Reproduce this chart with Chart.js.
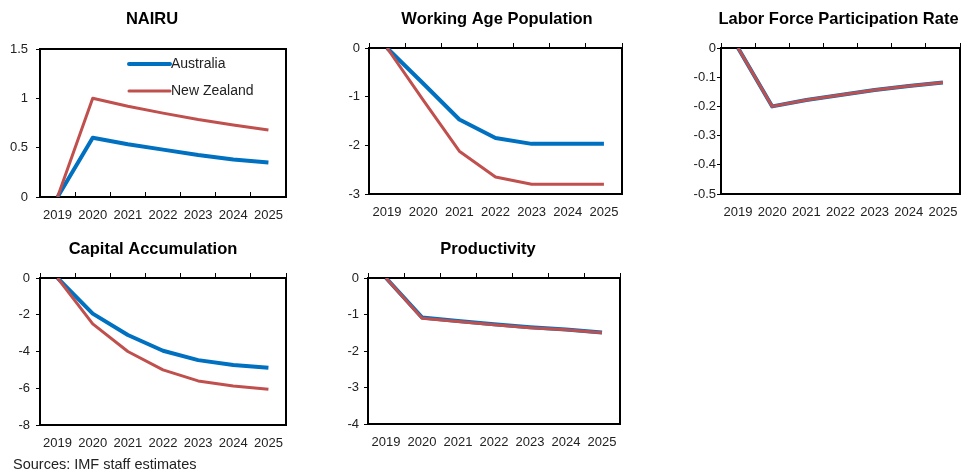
<!DOCTYPE html>
<html>
<head>
<meta charset="utf-8">
<script src="https://cdn.jsdelivr.net/npm/chart.js@4.4.0/dist/chart.umd.min.js"></script>
<style>
  html, body { margin: 0; padding: 0; background: #fff; width: 962px; height: 474px; overflow: hidden; }
  .panel { position: absolute; }
  .panel canvas { display: block; }
  #sources { position: absolute; left: 13px; top: 456px; font: 14.5px "Liberation Sans", Arial, sans-serif; color: #222; line-height: 16px; }
</style>
</head>
<body>
<div class="panel" style="left:0px;top:0px"><canvas id="nairu" width="304" height="230"></canvas></div>
<div class="panel" style="left:330px;top:0px"><canvas id="wap" width="334" height="230"></canvas></div>
<div class="panel" style="left:690px;top:0px"><canvas id="lfpr" width="297" height="230"></canvas></div>
<div class="panel" style="left:0px;top:230px"><canvas id="cap" width="306" height="244"></canvas></div>
<div class="panel" style="left:330px;top:230px"><canvas id="prod" width="316" height="244"></canvas></div>
<div id="sources">Sources: IMF staff estimates</div>
<script>
// Data
const years = ['2019', '2020', '2021', '2022', '2023', '2024', '2025'];
const seriesNames = ['Australia', 'New Zealand'];

const nairuAus = [0, 0.6, 0.535, 0.48, 0.425, 0.38, 0.35];
const nairuNzl = [0, 1.0, 0.92, 0.85, 0.785, 0.73, 0.68];

const wapAus = [0, -0.73, -1.47, -1.85, -1.97, -1.97, -1.97];
const wapNzl = [0, -1.07, -2.12, -2.65, -2.8, -2.8, -2.8];

const lfprAus = [0, -0.2, -0.178, -0.161, -0.144, -0.13, -0.118];
const lfprNzl = [0, -0.2, -0.178, -0.161, -0.144, -0.13, -0.118];

const capAus = [0, -1.94, -3.1, -3.96, -4.47, -4.74, -4.89];
const capNzl = [0, -2.5, -4.0, -5.0, -5.6, -5.88, -6.06];

const prodAus = [0, -1.08, -1.18, -1.27, -1.35, -1.41, -1.49];
const prodNzl = [0, -1.1, -1.19, -1.28, -1.36, -1.42, -1.5];

// y-axis ranges: [min, max, step]
const nairuRange = [0, 1.5, 0.5];
const wapRange = [-3, 0, 1];
const lfprRange = [-0.5, 0, 0.1];
const capRange = [-8, 0, 2];
const prodRange = [-4, 0, 1];

const ausColor = '#0070C0';
const nzlColor = '#C0504D';

Chart.defaults.font.family = '"Liberation Sans", Arial, sans-serif';
Chart.defaults.font.size = 13;
Chart.defaults.color = '#222';

// black frame around the plot area
const framePlugin = {
    id: 'frame',
    beforeDatasetsDraw(chart) {
        const a = chart.chartArea;
        const ctx = chart.ctx;
        ctx.save();
        ctx.strokeStyle = '#000';
        ctx.lineWidth = 2;
        ctx.strokeRect(a.left, a.top, a.right - a.left, a.bottom - a.top);
        ctx.restore();
    }
};

// legend drawn inside the plot area (NAIRU panel only)
const insideLegend = {
    id: 'insideLegend',
    afterDraw(chart) {
        const a = chart.chartArea;
        const ctx = chart.ctx;
        ctx.save();
        ctx.font = '14px "Liberation Sans", Arial, sans-serif';
        ctx.textBaseline = 'middle';
        ctx.fillStyle = '#222';
        seriesNames.forEach((name, i) => {
            const ds = chart.data.datasets.find(d => d.label === name);
            const y = a.top + 15 + i * 27;
            const x0 = a.left + 89;
            ctx.strokeStyle = ds.borderColor;
            ctx.lineWidth = ds.borderWidth;
            ctx.lineCap = 'round';
            ctx.beginPath();
            ctx.moveTo(x0, y);
            ctx.lineTo(x0 + 41, y);
            ctx.stroke();
            ctx.fillText(name, x0 + 42, y);
        });
        ctx.restore();
    }
};

// panel geometry: canvas box and plot area in page pixels
const panels = [
    { id: 'nairu', title: 'NAIRU', aus: nairuAus, nzl: nairuNzl, range: nairuRange, zeroBottom: true, legend: true,
      box: [0, 0, 304, 230], area: [40, 49, 286, 197], yPad: 8 },
    { id: 'wap', title: 'Working Age Population', aus: wapAus, nzl: wapNzl, range: wapRange,
      box: [330, 0, 334, 230], area: [369, 48, 622, 194], yPad: 5 },
    { id: 'lfpr', title: 'Labor Force Participation Rate', aus: lfprAus, nzl: lfprNzl, range: lfprRange,
      box: [690, 0, 297, 230], area: [721, 48, 960, 194], yPad: 1 },
    { id: 'cap', title: 'Capital Accumulation', aus: capAus, nzl: capNzl, range: capRange,
      box: [0, 230, 306, 244], area: [40, 278, 286, 425], yPad: 6 },
    { id: 'prod', title: 'Productivity', aus: prodAus, nzl: prodNzl, range: prodRange,
      box: [330, 230, 316, 244], area: [368, 278, 620, 424], yPad: 5 }
];

const makeChart = (p) => {
    const [bx, by, bw, bh] = p.box;
    const [al, at, ar, ab] = p.area;
    const titleSize = 16.5;
    const titleLine = titleSize * 1.2;
    const padTop = 19 - titleLine / 2;
    const padBottom = (at - by) - padTop - titleLine;
    const xTick = p.zeroBottom ? -5 : 0;

    const scales = {
        x: {
            type: 'category',
            position: 'bottom',
            offset: true,
            grid: {
                display: !!p.zeroBottom,
                drawOnChartArea: false,
                drawTicks: !!p.zeroBottom,
                tickLength: -5,
                color: '#000',
                offset: true
            },
            border: { display: false },
            ticks: { padding: 10.7 - xTick, maxRotation: 0, autoSkip: false },
            afterFit: (s) => { s.height = (by + bh) - ab; }
        },
        y: {
            min: p.range[0],
            max: p.range[1],
            ticks: {
                stepSize: p.range[2],
                padding: p.yPad,
                callback: (v) => String(Math.round(v * 100) / 100)
            },
            grid: { drawOnChartArea: false, drawTicks: true, tickLength: 4, color: '#000' },
            border: { display: false },
            afterFit: (s) => { s.width = al - bx; }
        },
        // empty right-hand axis: keeps the plot's right edge in place while the title spans the canvas
        yRight: {
            type: 'linear',
            position: 'right',
            ticks: { display: false },
            grid: { display: false, drawTicks: false },
            border: { display: false },
            afterFit: (s) => { s.width = (bx + bw) - ar; }
        }
    };
    if (!p.zeroBottom) {
        // tick marks along the zero line at the top of the frame
        scales.xTop = {
            type: 'category',
            position: 'top',
            labels: years,
            offset: true,
            ticks: { display: false },
            grid: { drawOnChartArea: false, drawTicks: true, tickLength: 5, color: '#000', offset: true },
            border: { display: false },
            afterFit: (s) => { s.height = 0; }
        };
    }

    return new Chart(document.getElementById(p.id).getContext('2d'), {
        type: 'line',
        data: {
            labels: years,
            datasets: [
                { label: seriesNames[0], data: p.aus, borderColor: ausColor, borderWidth: 4, order: 1, xAxisID: 'x', yAxisID: 'y' },
                { label: seriesNames[1], data: p.nzl, borderColor: nzlColor, borderWidth: 3, order: 0, xAxisID: 'x', yAxisID: 'y' }
            ]
        },
        options: {
            responsive: false,
            animation: false,
            events: [],
            layout: { padding: 0 },
            elements: {
                point: { radius: 0 },
                line: { tension: 0, fill: false, borderCapStyle: 'butt', borderJoinStyle: 'round' }
            },
            plugins: {
                legend: { display: false },
                tooltip: { enabled: false },
                title: {
                    display: true,
                    text: p.title,
                    color: '#000',
                    font: { size: titleSize, weight: 'bold' },
                    padding: { top: padTop, bottom: padBottom }
                }
            },
            scales: scales
        },
        plugins: p.legend ? [framePlugin, insideLegend] : [framePlugin]
    });
};

panels.forEach(makeChart);
</script>
</body>
</html>
